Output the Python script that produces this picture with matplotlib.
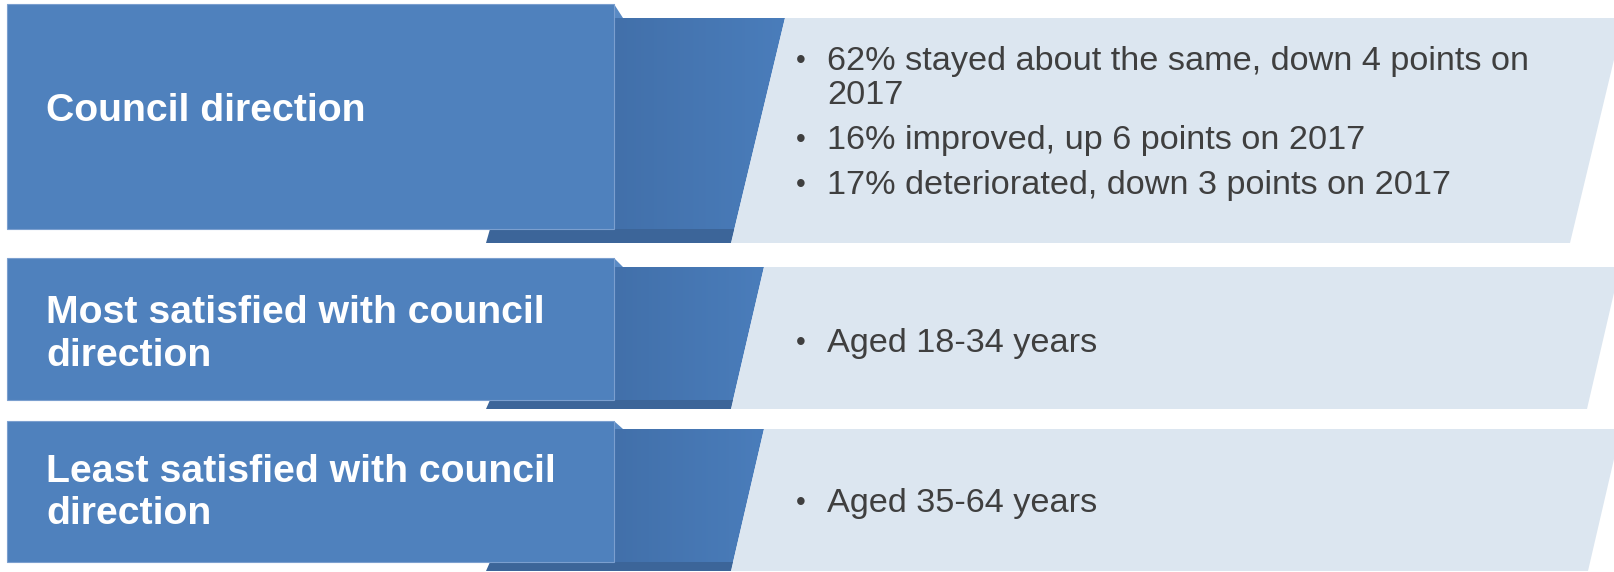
import matplotlib
matplotlib.use("Agg")
import matplotlib.pyplot as plt
from matplotlib.patches import Polygon
import numpy as np

# ---- data (text content) ----
titles = [
    "Council direction",
    "Most satisfied with council\ndirection",
    "Least satisfied with council\ndirection",
]
bullets = [
    ["62% stayed about the same, down 4 points on\n2017",
     "16% improved, up 6 points on 2017",
     "17% deteriorated, down 3 points on 2017"],
    ["Aged 18-34 years"],
    ["Aged 35-64 years"],
]

# ---- layout (pixel coordinates, y downward) ----
W, H = 1615, 572
label_top = [4, 258, 421]
label_bot = [229, 400, 562]
band_top = [18, 267, 429]
band_bot = [243, 409, 571]
para_left_top = [785, 764, 764]
para_left_bot = [731, 731, 731]
para_right_bot = [1570, 1587, 1588]
title_base = [121, 323, 482]
bullet_base = [70, 352, 512]

LBL_X0, LBL_X1 = 7, 614
FOLD_X = 623
SH_X_BOT, SH_X_TOP = 486, 490

C_LABEL = "#4F81BD"
C_SHADOW = "#3C6599"
C_LIGHT = "#DCE6F0"
C_TEXT = "#3F3F3F"

fig = plt.figure(figsize=(W / 100, H / 100), dpi=100)
ax = fig.add_axes([0, 0, 1, 1])
ax.set_xlim(0, W)
ax.set_ylim(H, 0)
ax.axis("off")

font = "Liberation Sans"
title_step = 42.5
wrap_step = 34
item_step = 45

for i in range(len(titles)):
    lt, lb, bt, bb = label_top[i], label_bot[i], band_top[i], band_bot[i]
    plt_, plb = para_left_top[i], para_left_bot[i]
    prb = para_right_bot[i]
    dx = plt_ - plb
    prt = prb + dx

    # band (medium blue with gradient)
    band_pts = [(LBL_X1, lt), (FOLD_X, bt), (plt_, bt), (plb, bb),
                (SH_X_BOT, bb), (SH_X_TOP, lb), (LBL_X1, lb)]
    band = Polygon(band_pts, closed=True, facecolor="none", edgecolor="none")
    ax.add_patch(band)
    grad = np.linspace(0, 1, 256).reshape(1, -1)
    cmap = matplotlib.colors.LinearSegmentedColormap.from_list(
        "b", ["#4270AA", "#4A7DBB"])
    im = ax.imshow(grad, extent=(LBL_X1, plt_, bb, bt), aspect="auto",
                   cmap=cmap, zorder=1)
    im.set_clip_path(band)
    # fold triangle
    ax.add_patch(Polygon([(LBL_X1, lt), (FOLD_X, bt), (LBL_X1, bt)],
                         closed=True, facecolor="#5A8AC4", edgecolor="none", zorder=2))

    # shadow strip below label
    x_at_lb = plb + (plt_ - plb) * (bb - lb) / (bb - bt)
    ax.add_patch(Polygon([(SH_X_BOT, bb), (SH_X_TOP, lb), (x_at_lb, lb), (plb, bb)],
                         closed=True, facecolor=C_SHADOW, edgecolor="none", zorder=2))

    # light parallelogram
    ax.add_patch(Polygon([(plt_, bt), (prt, bt), (prb, bb), (plb, bb)],
                         closed=True, facecolor=C_LIGHT, edgecolor="none", zorder=3))

    # label box
    ax.add_patch(Polygon([(LBL_X0, lt), (LBL_X1, lt), (LBL_X1, lb), (LBL_X0, lb)],
                         closed=True, facecolor=C_LABEL, edgecolor="#7B9FCF",
                         linewidth=0.8, zorder=4))

    # title text
    for k, line in enumerate(titles[i].split("\n")):
        ax.text(46, title_base[i] + k * title_step, line, color="white",
                fontsize=28.3, fontweight="bold", family=font,
                ha="left", va="baseline", zorder=5)

    # bullets
    y = bullet_base[i]
    for item in bullets[i]:
        lines = item.split("\n")
        ax.text(801, y - 9, "\u2022", color=C_TEXT, fontsize=20, family=font,
                ha="center", va="center", zorder=5)
        for k, line in enumerate(lines):
            ax.text(827, y, line, color=C_TEXT, fontsize=24.7, family=font,
                    ha="left", va="baseline", zorder=5)
            if k < len(lines) - 1:
                y += wrap_step
        y += item_step

fig.savefig("out.png", dpi=100)
